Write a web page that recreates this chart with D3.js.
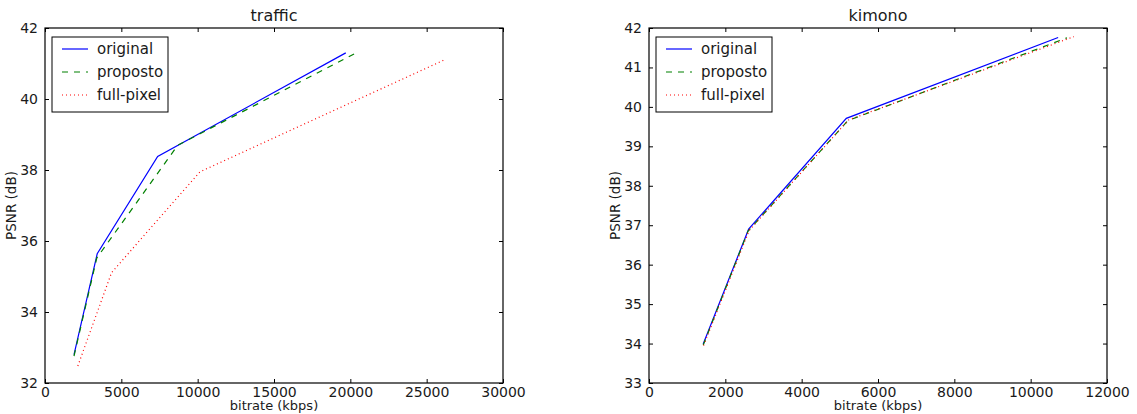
<!DOCTYPE html>
<html>
<head>
<meta charset="utf-8">
<script src="https://cdn.jsdelivr.net/npm/d3@7"></script>
<style>
  html, body { margin: 0; padding: 0; background: #fff; }
  svg { display: block; font-family: "DejaVu Sans", sans-serif; }
</style>
</head>
<body>
<svg id="chart" width="1137" height="414"></svg>
<script>
// Rate-distortion curves: PSNR (dB) against bitrate (kbps)
const seriesNames = ["original", "proposto", "full-pixel"];

// traffic sequence
const trafficOriginalRate = [1900, 3420, 7380, 19700];
const trafficOriginalPsnr = [32.80, 35.64, 38.38, 41.30];
const trafficPropostoRate = [1900, 3390, 8700, 20250];
const trafficPropostoPsnr = [32.76, 35.52, 38.70, 41.27];
const trafficFullPixelRate = [2150, 4360, 10150, 26200];
const trafficFullPixelPsnr = [32.48, 35.11, 37.95, 41.11];
const trafficXTicks = [0, 5000, 10000, 15000, 20000, 25000, 30000];
const trafficYTicks = [32, 34, 36, 38, 40, 42];

// kimono sequence
const kimonoOriginalRate = [1420, 2610, 5170, 10720];
const kimonoOriginalPsnr = [33.99, 36.90, 39.71, 41.76];
const kimonoPropostoRate = [1420, 2595, 5210, 10950];
const kimonoPropostoPsnr = [33.96, 36.85, 39.65, 41.75];
const kimonoFullPixelRate = [1430, 2625, 5230, 11130];
const kimonoFullPixelPsnr = [33.95, 36.87, 39.67, 41.78];
const kimonoXTicks = [0, 2000, 4000, 6000, 8000, 10000, 12000];
const kimonoYTicks = [33, 34, 35, 36, 37, 38, 39, 40, 41, 42];

const styles = [
  { color: "#0000ff", dash: null },
  { color: "#008000", dash: "6,6" },
  { color: "#ff0000", dash: "1,3" }
];

const svg = d3.select("#chart");

function zip(rates, psnrs) {
  return rates.map((r, i) => ({ rate: r, psnr: psnrs[i] }));
}

function drawPanel(opts) {
  const { left, top, width, height, title, xDomain, yDomain, xTicks, yTicks, series } = opts;
  const g = svg.append("g").attr("transform", `translate(${left},${top})`);

  const x = d3.scaleLinear().domain(xDomain).range([0, width]);
  const y = d3.scaleLinear().domain(yDomain).range([height, 0]);

  // curves
  const line = d3.line().x(d => x(d.rate)).y(d => y(d.psnr));
  series.forEach((s, i) => {
    g.append("path")
      .datum(s)
      .attr("fill", "none")
      .attr("stroke", styles[i].color)
      .attr("stroke-width", 1.2)
      .attr("stroke-dasharray", styles[i].dash)
      .attr("d", line);
  });

  // inward ticks on all four sides
  const tickLen = 4;
  const fmt = d3.format("d");
  const bottom = d3.axisBottom(x).tickValues(xTicks).tickSizeInner(-tickLen).tickSizeOuter(0).tickPadding(4).tickFormat(fmt);
  const topAx = d3.axisTop(x).tickValues(xTicks).tickSizeInner(-tickLen).tickSizeOuter(0).tickFormat("");
  const leftAx = d3.axisLeft(y).tickValues(yTicks).tickSizeInner(-tickLen).tickSizeOuter(0).tickPadding(7).tickFormat(fmt);
  const rightAx = d3.axisRight(y).tickValues(yTicks).tickSizeInner(-tickLen).tickSizeOuter(0).tickFormat("");

  const axes = [
    g.append("g").attr("transform", `translate(0,${height})`).call(bottom),
    g.append("g").call(topAx),
    g.append("g").call(leftAx),
    g.append("g").attr("transform", `translate(${width},0)`).call(rightAx)
  ];
  axes.forEach(a => {
    a.select(".domain").remove();
    a.selectAll("line").attr("stroke", "#000").attr("stroke-width", 1);
    a.selectAll("text").attr("fill", "#1a1a1a").attr("font-size", 14).attr("font-family", "DejaVu Sans, sans-serif");
  });

  // frame
  g.append("rect")
    .attr("x", 0).attr("y", 0).attr("width", width).attr("height", height)
    .attr("fill", "none").attr("stroke", "#000").attr("stroke-width", 1.2);

  // title and axis labels
  g.append("text").attr("x", width / 2).attr("y", -7)
    .attr("text-anchor", "middle").attr("font-size", 16).attr("fill", "#1a1a1a").text(title);
  g.append("text").attr("x", width / 2).attr("y", height + 27)
    .attr("text-anchor", "middle").attr("font-size", 13).attr("fill", "#1a1a1a").text("bitrate (kbps)");
  g.append("text")
    .attr("transform", `translate(-29,${height / 2}) rotate(-90)`)
    .attr("text-anchor", "middle").attr("font-size", 13.5).attr("fill", "#1a1a1a").text("PSNR (dB)");

  // legend
  const lg = g.append("g").attr("transform", "translate(7,9)");
  lg.append("rect").attr("width", 116).attr("height", 75)
    .attr("fill", "#fff").attr("stroke", "#000").attr("stroke-width", 1);
  seriesNames.forEach((name, i) => {
    const cy = 12 + i * 23;
    lg.append("line")
      .attr("x1", 10).attr("x2", 36).attr("y1", cy).attr("y2", cy)
      .attr("stroke", styles[i].color).attr("stroke-width", 1.2)
      .attr("stroke-dasharray", styles[i].dash);
    lg.append("text").attr("x", 45).attr("y", cy).attr("dy", "0.35em")
      .attr("font-size", 15).attr("fill", "#1a1a1a").text(name);
  });
}

drawPanel({
  left: 45, top: 28, width: 458, height: 355,
  title: "traffic",
  xDomain: [0, 30000], yDomain: [32, 42],
  xTicks: trafficXTicks, yTicks: trafficYTicks,
  series: [
    zip(trafficOriginalRate, trafficOriginalPsnr),
    zip(trafficPropostoRate, trafficPropostoPsnr),
    zip(trafficFullPixelRate, trafficFullPixelPsnr)
  ]
});

drawPanel({
  left: 649, top: 28, width: 458, height: 355,
  title: "kimono",
  xDomain: [0, 12000], yDomain: [33, 42],
  xTicks: kimonoXTicks, yTicks: kimonoYTicks,
  series: [
    zip(kimonoOriginalRate, kimonoOriginalPsnr),
    zip(kimonoPropostoRate, kimonoPropostoPsnr),
    zip(kimonoFullPixelRate, kimonoFullPixelPsnr)
  ]
});
</script>
</body>
</html>
